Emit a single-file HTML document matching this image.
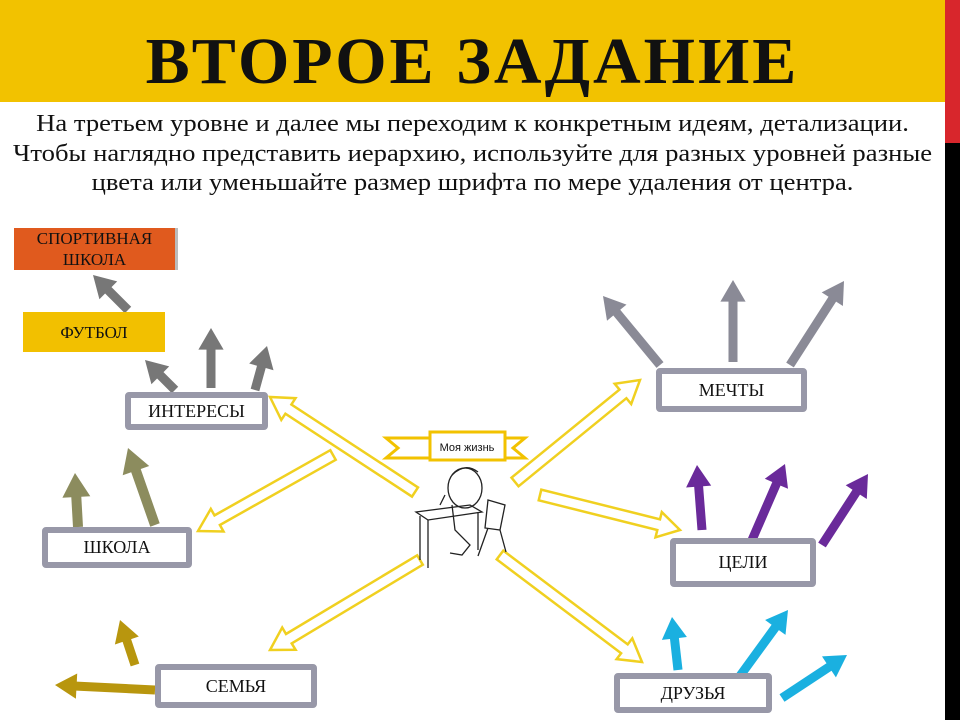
<!DOCTYPE html>
<html><head><meta charset="utf-8"><style>
body{margin:0;width:960px;height:720px;overflow:hidden;background:#fff;position:relative;font-family:"Liberation Serif",serif}
.hdr{position:absolute;left:0;top:0;width:945px;height:102px;background:#f2c200}
.red{position:absolute;left:945px;top:0;width:15px;height:143px;background:#d8262c}
.blk{position:absolute;left:945px;top:143px;width:15px;height:577px;background:#000}
h1{position:absolute;left:0;width:945px;top:22px;margin:0;text-align:center;font-size:66px;font-weight:bold;letter-spacing:3px;color:#111;line-height:80px}
.p{position:absolute;left:0;width:945px;top:110px;text-align:center;font-size:24px;line-height:29.5px;color:#111;white-space:nowrap;transform:scaleX(1.11);transform-origin:472px 0}
.box{position:absolute;box-sizing:border-box;border:6px solid #9898a8;border-radius:4px;background:#fff;display:flex;align-items:center;justify-content:center;font-size:18px;color:#111}
.fb{position:absolute;display:flex;align-items:center;justify-content:center;text-align:center;font-size:17px;line-height:21px;color:#111}
</style></head><body>
<div class="hdr"></div><div class="red"></div><div class="blk"></div>
<h1>ВТОРОЕ ЗАДАНИЕ</h1>
<div class="p">На третьем уровне и далее мы переходим к конкретным идеям, детализации.<br>Чтобы наглядно представить иерархию, используйте для разных уровней разные<br>цвета или уменьшайте размер шрифта по мере удаления от центра.</div>
<svg id="s" width="960" height="720" style="position:absolute;left:0;top:0">
<g id="arrows"></g>
<g stroke="#222" stroke-width="1.3" fill="none">
<path d="M430 432 L505 432 L505 460 L430 460 Z" fill="#fff" stroke="#f2c200" stroke-width="3"/>
<path d="M430 438 L386 438 L398 448 L386 458 L430 458 M505 438 L525 438 L513 448 L525 458 L505 458" stroke="#f2c200" stroke-width="3"/>
<ellipse cx="465" cy="488" rx="17" ry="20"/>
<path d="M452 475 Q465 462 478 472"/>
<path d="M416 512 L470 505 L482 512 L428 520 Z"/>
<path d="M420 516 L420 560 M428 520 L428 568 M478 512 L478 550"/>
<path d="M488 500 L505 505 L500 530 L485 528 Z M488 528 L478 556 M500 530 L506 552"/>
<path d="M452 505 L455 530 L470 545 L462 555 L450 553 M445 495 L440 505"/>
</g>
<text x="467" y="451" font-family="Liberation Sans" font-size="11" text-anchor="middle" fill="#111">Моя жизнь</text>
</svg>
<div class="fb" style="left:14px;top:228px;width:161px;height:42px;background:#e05a1e;border-right:3px solid #bbb">СПОРТИВНАЯ<br>ШКОЛА</div>
<div class="fb" style="left:23px;top:312px;width:142px;height:40px;background:#f2c000">ФУТБОЛ</div>
<div class="box" style="left:125px;top:392px;width:143px;height:38px">ИНТЕРЕСЫ</div>
<div class="box" style="left:42px;top:527px;width:150px;height:41px">ШКОЛА</div>
<div class="box" style="left:155px;top:664px;width:162px;height:44px">СЕМЬЯ</div>
<div class="box" style="left:656px;top:368px;width:151px;height:44px">МЕЧТЫ</div>
<div class="box" style="left:670px;top:538px;width:146px;height:49px">ЦЕЛИ</div>
<div class="box" style="left:614px;top:673px;width:158px;height:40px">ДРУЗЬЯ</div>
<script>
var g=document.getElementById('arrows'),NS='http://www.w3.org/2000/svg';
function poly(x1,y1,x2,y2,w,hw,hl){var dx=x2-x1,dy=y2-y1,L=Math.hypot(dx,dy),ux=dx/L,uy=dy/L,nx=-uy,ny=ux;
var bx=x2-ux*hl,by=y2-uy*hl;var p=[[x1+nx*w/2,y1+ny*w/2],[bx+nx*w/2,by+ny*w/2],[bx+nx*hw/2,by+ny*hw/2],[x2,y2],[bx-nx*hw/2,by-ny*hw/2],[bx-nx*w/2,by-ny*w/2],[x1-nx*w/2,y1-ny*w/2]];
return p.map(function(q){return q[0].toFixed(1)+','+q[1].toFixed(1)}).join(' ');}
function A(x1,y1,x2,y2,c,w){var e=document.createElementNS(NS,'polygon');e.setAttribute('points',poly(x1,y1,x2,y2,w,w*2.8,w*2.4));e.setAttribute('fill',c);g.appendChild(e);}
function H(x1,y1,x2,y2){var e=document.createElementNS(NS,'polygon');e.setAttribute('points',poly(x1,y1,x2,y2,11,26,22));e.setAttribute('fill','#fff');e.setAttribute('stroke','#f0d020');e.setAttribute('stroke-width','2.5');g.appendChild(e);}
H(415,492,270,397);H(333,455,198,531);H(420,560,270,650);H(515,482,640,380);H(540,495,680,530);H(500,555,642,662);
var gy='#777';A(128,310,93,275,gy,9);A(175,390,145,360,gy,9);A(211,388,211,328,gy,9);A(255,390,267,346,gy,9);
var ol='#8c8c5e';A(78,527,75,473,ol,10);A(155,525,128,448,ol,10);
var gd='#b8960e';A(155,690,55,685,gd,9);A(135,665,120,620,gd,9);
var mg='#8a8a96';A(660,365,603,296,mg,9);A(733,362,733,280,mg,9);A(790,365,844,281,mg,9);
var pu='#6a2a9a';A(702,530,697,465,pu,9);A(752,540,785,464,pu,9);A(822,545,868,474,pu,9);
var cy='#1ab0e0';A(678,670,672,617,cy,9);A(737,680,788,610,cy,9);A(782,698,847,655,cy,9);
</script>
</body></html>
